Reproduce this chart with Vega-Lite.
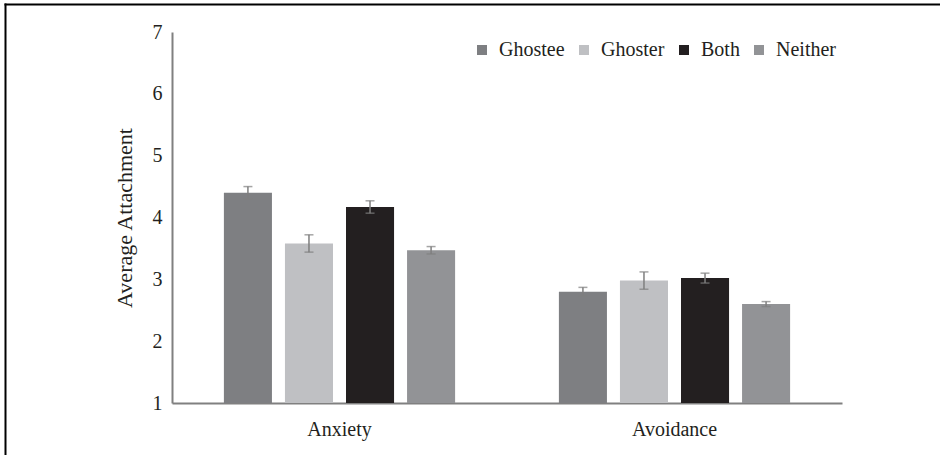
{
  "$schema": "https://vega.github.io/schema/vega-lite/v6.json",
  "autosize": "none",
  "padding": {"left": 5, "top": 4, "right": 0, "bottom": 0},
  "width": 935,
  "height": 451,
  "background": "white",
  "view": {"stroke": null},
  "config": {
    "font": "Liberation Serif",
    "axis": {"labelFont": "Liberation Serif", "titleFont": "Liberation Serif"},
    "legend": {"labelFont": "Liberation Serif"}
  },
  "data": {
    "values": [
      {"measure": "Anxiety", "group": "Ghostee", "mean": 4.40, "lo": 4.30, "hi": 4.50},
      {"measure": "Anxiety", "group": "Ghoster", "mean": 3.58, "lo": 3.44, "hi": 3.72},
      {"measure": "Anxiety", "group": "Both", "mean": 4.17, "lo": 4.07, "hi": 4.27},
      {"measure": "Anxiety", "group": "Neither", "mean": 3.47, "lo": 3.41, "hi": 3.53},
      {"measure": "Avoidance", "group": "Ghostee", "mean": 2.80, "lo": 2.73, "hi": 2.87},
      {"measure": "Avoidance", "group": "Ghoster", "mean": 2.98, "lo": 2.84, "hi": 3.12},
      {"measure": "Avoidance", "group": "Both", "mean": 3.02, "lo": 2.94, "hi": 3.10},
      {"measure": "Avoidance", "group": "Neither", "mean": 2.60, "lo": 2.56, "hi": 2.64}
    ]
  },
  "resolve": {
    "scale": {"x": "independent", "y": "independent"},
    "axis": {"x": "independent", "y": "independent"}
  },
  "layer": [
    {
      "encoding": {
        "x": {
          "field": "measure", "type": "nominal", "sort": ["Anxiety", "Avoidance"],
          "scale": {"range": [167, 837], "paddingInner": 0, "paddingOuter": 0},
          "axis": {
            "title": null, "orient": "bottom", "offset": -52, "labelAngle": 0,
            "ticks": false, "labelPadding": 16, "labelFontSize": 20, "labelColor": "#231f20",
            "domainColor": "#808080", "domainWidth": 2, "grid": false
          }
        },
        "xOffset": {
          "field": "group", "type": "nominal", "sort": ["Ghostee", "Ghoster", "Both", "Neither"],
          "scale": {"paddingInner": 0.213, "paddingOuter": 0.85}
        }
      },
      "layer": [
        {
          "mark": {"type": "bar"},
          "encoding": {
            "y": {
              "field": "mean", "type": "quantitative",
              "scale": {"domain": [1, 7], "range": [399, 28], "zero": false, "nice": false},
              "axis": {
                "title": "Average Attachment", "orient": "left", "offset": -167,
                "values": [1, 2, 3, 4, 5, 6, 7], "format": "d", "ticks": false, "grid": false,
                "labelPadding": 10, "labelFontSize": 20, "labelColor": "#231f20",
                "titleFontSize": 22, "titleFontWeight": "normal", "titleColor": "#231f20", "titlePadding": 16,
                "domainColor": "#808080", "domainWidth": 2
              }
            },
            "y2": {"datum": 1},
            "color": {
              "field": "group", "type": "nominal", "sort": ["Ghostee", "Ghoster", "Both", "Neither"],
              "scale": {"domain": ["Ghostee", "Ghoster", "Both", "Neither"], "range": ["#7e7f82", "#bfc0c3", "#231f20", "#929396"]},
              "legend": {
                "title": null, "orient": "none", "direction": "horizontal",
                "legendX": 467, "legendY": 36, "padding": 0,
                "symbolType": "square", "symbolSize": 100, "symbolStrokeWidth": 0,
                "labelFontSize": 20, "labelColor": "#231f20", "labelOffset": 7, "columnPadding": 9
              }
            }
          }
        },
        {
          "mark": {"type": "rule", "color": "#7f7f7f", "strokeWidth": 1.5},
          "encoding": {
            "y": {"field": "lo", "type": "quantitative"},
            "y2": {"field": "hi"}
          }
        },
        {
          "mark": {"type": "tick", "color": "#7f7f7f", "thickness": 1.5, "size": 9, "orient": "horizontal"},
          "encoding": {"y": {"field": "lo", "type": "quantitative"}}
        },
        {
          "mark": {"type": "tick", "color": "#7f7f7f", "thickness": 1.5, "size": 9, "orient": "horizontal"},
          "encoding": {"y": {"field": "hi", "type": "quantitative"}}
        }
      ]
    },
    {
      "mark": {"type": "point", "opacity": 0},
      "encoding": {
        "x": {
          "field": "measure", "type": "nominal",
          "axis": {"orient": "top", "offset": 0, "title": null, "labels": false, "ticks": false, "grid": false,
                   "domainColor": "#000000", "domainWidth": 2, "domainCap": "square"}
        },
        "y": {
          "field": "mean", "type": "quantitative",
          "axis": {"orient": "left", "offset": 0, "title": null, "labels": false, "ticks": false, "grid": false,
                   "domainColor": "#000000", "domainWidth": 2, "domainCap": "square"}
        }
      }
    }
  ]
}
